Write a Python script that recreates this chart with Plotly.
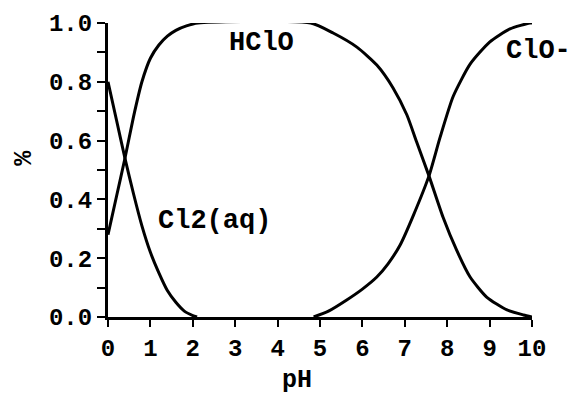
import plotly.graph_objects as go

# Cl2(aq) fraction vs pH
ph_cl2 = [0, 0.2, 0.4, 0.6, 0.8, 1.0, 1.2, 1.4, 1.6, 1.8, 2.0, 2.1]
frac_cl2 = [0.80, 0.67, 0.54, 0.42, 0.31, 0.22, 0.15, 0.09, 0.05, 0.02, 0.005, 0.0]

# HClO fraction vs pH
ph_hclo = [0, 0.2, 0.4, 0.6, 0.8, 1.0, 1.2, 1.4, 1.6, 1.85, 2.12, 4.78,
           5.31, 5.87, 6.34, 6.72, 7.05, 7.28, 7.57, 7.9, 8.22, 8.54, 8.93,
           9.41, 9.8, 10.0]
frac_hclo = [0.28, 0.41, 0.54, 0.68, 0.80, 0.88, 0.925, 0.955, 0.975, 0.99, 1.0,
             1.0, 0.966, 0.918, 0.857, 0.78, 0.687, 0.595, 0.48, 0.34, 0.228,
             0.136, 0.068, 0.024, 0.007, 0.0]

# ClO- fraction vs pH
ph_clo = [4.85, 5.2, 5.63, 6.0, 6.34, 6.6, 6.89, 7.2, 7.57, 7.83, 8.14, 8.54,
          9.0, 9.48, 9.95, 10.0]
frac_clo = [0.0, 0.02, 0.058, 0.095, 0.136, 0.18, 0.245, 0.345, 0.48, 0.61,
            0.75, 0.86, 0.935, 0.98, 1.0, 1.0]

x_ticks = list(range(0, 11))
y_ticks = [0.0, 0.2, 0.4, 0.6, 0.8, 1.0]
y_ticklabels = ["0.0", "0.2", "0.4", "0.6", "0.8", "1.0"]

FONT = "Liberation Mono"

fig = go.Figure()
for xs, ys in [(ph_cl2, frac_cl2), (ph_hclo, frac_hclo), (ph_clo, frac_clo)]:
    fig.add_trace(go.Scatter(x=xs, y=ys, mode="lines",
                             line=dict(color="black", width=3, shape="spline", smoothing=0.6),
                             showlegend=False, hoverinfo="skip"))

labels = [("HClO", 3.63, 0.932, 0), ("ClO-", 10.0, 0.905, 6), ("Cl2(aq)", 2.5, 0.327, 0)]
for txt, x, y, dx in labels:
    fig.add_annotation(x=x, y=y, xshift=dx, text="<b>%s</b>" % txt, showarrow=False,
                       font=dict(family=FONT, size=27, color="black"))

fig.add_annotation(x=4.45, y=0, yref="paper", yshift=-80, text="<b>pH</b>", showarrow=False,
                   font=dict(family=FONT, size=25, color="black"))
fig.add_annotation(xref="paper", x=0, xshift=-100, y=0.54, yref="paper", text="<b>%</b>",
                   textangle=-90, showarrow=False,
                   font=dict(family=FONT, size=25, color="black"))

fig.update_xaxes(range=[0, 10], tickvals=x_ticks, ticks="outside", ticklen=7, tickwidth=2,
                 tickcolor="black", showline=True, linecolor="black", linewidth=3,
                 showgrid=False, zeroline=False, automargin=False,
                 tickfont=dict(family=FONT, size=24, color="black", weight="bold"))
fig.update_yaxes(range=[0, 1.0], tickvals=y_ticks, ticktext=y_ticklabels, ticks="outside",
                 ticklen=8, tickwidth=2, tickcolor="black", showline=True, linecolor="black",
                 linewidth=3, showgrid=False, zeroline=False, automargin=False,
                 minor=dict(dtick=0.1, ticks="outside", ticklen=8, tickwidth=2, tickcolor="black"),
                 tickfont=dict(family=FONT, size=24, color="black", weight="bold"))

fig.update_layout(width=576, height=394, paper_bgcolor="white", plot_bgcolor="white",
                  margin=dict(l=100, r=52, t=15, b=85))

fig.write_html("out.html")
